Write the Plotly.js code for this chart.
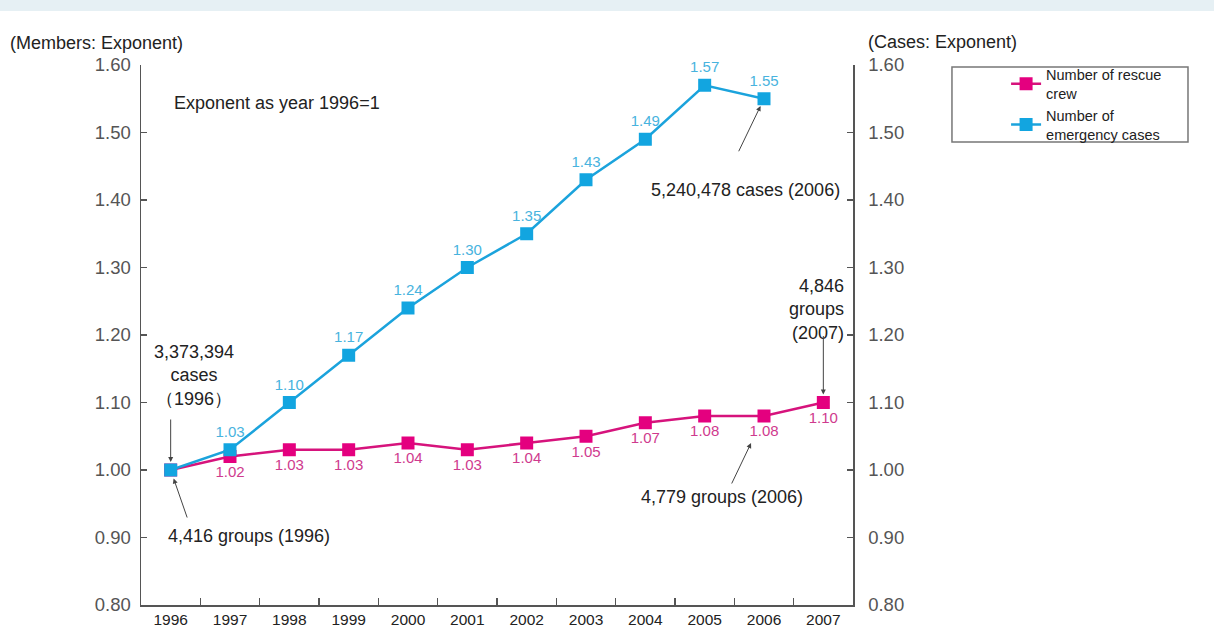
<!DOCTYPE html>
<html>
<head>
<meta charset="utf-8">
<script src="https://cdn.plot.ly/plotly-3.0.1.min.js"></script>
<style>
  html, body { margin: 0; padding: 0; background: #ffffff; }
  #chart { width: 1214px; height: 633px; }
</style>
</head>
<body>
<div id="chart"></div>
<script>
const years = ['1996','1997','1998','1999','2000','2001','2002','2003','2004','2005','2006','2007'];
const rescueCrew = [1.00, 1.02, 1.03, 1.03, 1.04, 1.03, 1.04, 1.05, 1.07, 1.08, 1.08, 1.10];
const emergencyYears = ['1996','1997','1998','1999','2000','2001','2002','2003','2004','2005','2006'];
const emergencyCases = [1.00, 1.03, 1.10, 1.17, 1.24, 1.30, 1.35, 1.43, 1.49, 1.57, 1.55];
const yTicks = [0.8, 0.9, 1.0, 1.1, 1.2, 1.3, 1.4, 1.5, 1.6];

const labelOf = arr => arr.map((v, i) => i === 0 ? '' : v.toFixed(2));

const FONT = '"Liberation Sans", Arial, Helvetica, sans-serif';
const TXT = '#222222';
const AXC = '#555555';

const traces = [
  {
    name: 'Number of rescue<br>crew',
    x: years, y: rescueCrew,
    type: 'scatter', mode: 'lines+markers+text',
    text: labelOf(rescueCrew),
    textposition: 'bottom center',
    textfont: {family: FONT, size: 15, color: '#cf3a8e'},
    line: {color: '#d6137c', width: 2.5},
    marker: {symbol: 'square', size: 13, color: '#e4007f'},
    cliponaxis: false,
    hoverinfo: 'x+y'
  },
  {
    name: 'Number of<br>emergency cases',
    x: emergencyYears, y: emergencyCases,
    yaxis: 'y2',
    type: 'scatter', mode: 'lines+markers+text',
    text: labelOf(emergencyCases),
    textposition: 'top center',
    textfont: {family: FONT, size: 15, color: '#48b3de'},
    line: {color: '#1ba3dc', width: 2.5},
    marker: {symbol: 'square', size: 13, color: '#12a5e0'},
    cliponaxis: false,
    hoverinfo: 'x+y'
  }
];

const yAxisCommon = {
  range: [0.8, 1.6],
  tickvals: yTicks,
  tickformat: '.2f',
  ticks: 'inside', ticklen: 6, tickwidth: 1.2, tickcolor: AXC,
  showline: true, linecolor: AXC, linewidth: 1.5,
  showgrid: false, zeroline: false,
  tickfont: {family: FONT, size: 18.5, color: AXC},
  fixedrange: true
};

const annFont = {family: FONT, size: 18, color: TXT};
const arrowCommon = {
  text: '', showarrow: true, arrowhead: 2, arrowsize: 1, arrowwidth: 1,
  arrowcolor: '#444444', axref: 'pixel', ayref: 'pixel'
};

const layout = {
  width: 1214, height: 633,
  margin: {l: 141, r: 361, t: 65, b: 28},
  paper_bgcolor: '#ffffff', plot_bgcolor: '#ffffff',
  font: {family: FONT, color: TXT},
  showlegend: true,
  legend: {
    x: 1.215, y: 1.012, xanchor: 'left', yanchor: 'top',
    bgcolor: 'rgba(0,0,0,0)', borderwidth: 0,
    font: {family: FONT, size: 14.5, color: TXT},
    tracegroupgap: 0
  },
  xaxis: {
    type: 'category',
    range: [-0.5, 11.5],
    tickson: 'boundaries',
    ticks: 'inside', ticklen: 7, tickwidth: 1.2, tickcolor: AXC,
    showline: true, linecolor: AXC, linewidth: 1.5,
    showgrid: false, zeroline: false,
    tickfont: {family: FONT, size: 15.5, color: TXT},
    fixedrange: true
  },
  yaxis: Object.assign({}, yAxisCommon, {side: 'left', ticklabelstandoff: 5}),
  yaxis2: Object.assign({}, yAxisCommon, {side: 'right', overlaying: 'y', anchor: 'x', ticklabelstandoff: 10}),
  shapes: [
    {type: 'rect', xref: 'paper', yref: 'paper', x0: -0.2, x1: 1.51, y0: 1.1, y1: 1.125,
     fillcolor: '#e6f0f4', line: {width: 0}, layer: 'below'},
    {type: 'rect', xref: 'paper', yref: 'paper', x0: 1.139, x1: 1.4705, y0: 0.8574, y1: 0.9963,
     fillcolor: 'rgba(0,0,0,0)', line: {color: '#777777', width: 1.5}}
  ],
  annotations: [
    {xref: 'paper', yref: 'paper', x: -0.1868, y: 1.0407, xanchor: 'left', yanchor: 'middle',
     text: '(Members: Exponent)', showarrow: false, font: annFont},
    {xref: 'paper', yref: 'paper', x: 1.0183, y: 1.0426, xanchor: 'left', yanchor: 'middle',
     text: '(Cases: Exponent)', showarrow: false, font: annFont},
    {xref: 'paper', yref: 'paper', x: 0.0435, y: 0.9296, xanchor: 'left', yanchor: 'middle',
     text: 'Exponent as year 1996=1', showarrow: false, font: annFont},

    {xref: 'x', yref: 'y', x: 0.40, y: 1.1407, xanchor: 'center', yanchor: 'middle',
     text: '3,373,394<br>cases<br>（1996）', showarrow: false, font: annFont, align: 'center'},
    Object.assign({}, arrowCommon, {xref: 'x', yref: 'y', x: 0, y: emergencyCases[0], ax: 0, ay: -52, standoff: 8}),

    {xref: 'x', yref: 'y', x: 1.32, y: 0.9015, xanchor: 'center', yanchor: 'middle',
     text: '4,416 groups (1996)', showarrow: false, font: annFont},
    Object.assign({}, arrowCommon, {xref: 'x', yref: 'y', x: 0, y: rescueCrew[0], ax: 17, ay: 49, standoff: 9}),

    {xref: 'x', yref: 'y', x: 9.69, y: 1.4148, xanchor: 'center', yanchor: 'middle',
     text: '5,240,478 cases (2006)', showarrow: false, font: annFont},
    Object.assign({}, arrowCommon, {xref: 'x', yref: 'y2', x: 10, y: emergencyCases[10], ax: -26, ay: 54, standoff: 8}),

    {xref: 'x', yref: 'y', x: 9.30, y: 0.96, xanchor: 'center', yanchor: 'middle',
     text: '4,779 groups (2006)', showarrow: false, font: annFont},
    Object.assign({}, arrowCommon, {xref: 'x', yref: 'y', x: 10, y: rescueCrew[10], ax: -33, ay: 69, standoff: 30}),

    {xref: 'x', yref: 'y', x: 11.377, y: 1.2385, xanchor: 'right', yanchor: 'middle',
     text: '4,846<br>groups<br>(2007)', showarrow: false, font: annFont, align: 'right'},
    Object.assign({}, arrowCommon, {xref: 'x', yref: 'y', x: 11, y: rescueCrew[11], ax: 0, ay: -68, standoff: 8})
  ]
};

Plotly.newPlot('chart', traces, layout, {displayModeBar: false, responsive: false, staticPlot: true});
</script>
</body>
</html>
